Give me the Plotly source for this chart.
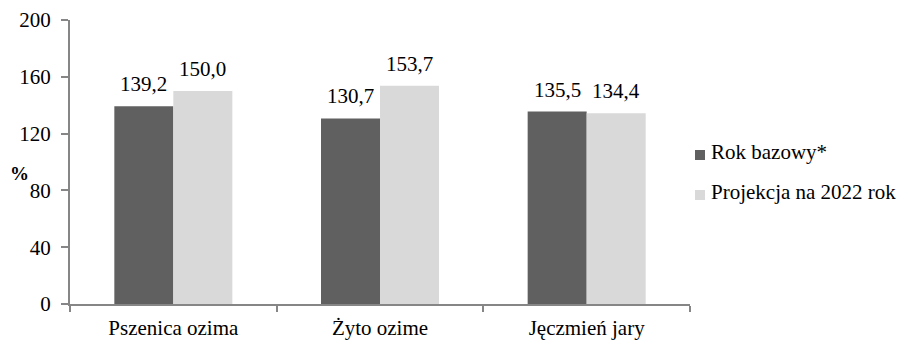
import plotly.graph_objects as go

# Crop categories and yield index series (%)
categories = ["Pszenica ozima", "Żyto ozime", "Jęczmień jary"]
series_names = ["Rok bazowy*", "Projekcja na 2022 rok"]
base_year = [139.2, 130.7, 135.5]
projection_2022 = [150.0, 153.7, 134.4]
series_values = [base_year, projection_2022]
series_colors = ["#606060", "#d9d9d9"]
y_ticks = [0, 40, 80, 120, 160, 200]

FONT = "Liberation Serif, serif"
AXIS_COLOR = "#868686"
FS = 21

fig = go.Figure()
for name, vals, col in zip(series_names, series_values, series_colors):
    fig.add_trace(go.Bar(
        x=categories, y=vals, name=name,
        marker=dict(color=col, line=dict(width=0)),
        showlegend=False,
    ))

# Value labels above each bar, with a comma decimal separator
n_series = len(series_values)
for si, vals in enumerate(series_values):
    for ci, v in enumerate(vals):
        fig.add_annotation(
            x=categories[ci], y=v, xref="x", yref="y",
            text=f"{v:.1f}".replace(".", ","),
            showarrow=False, yanchor="middle", xanchor="center",
            xshift=(si - (n_series - 1) / 2) * 59, yshift=22,
            font=dict(family=FONT, size=FS, color="#000000"),
        )

# Legend drawn as swatches with labels on the right
legend_rows = [(155, 152), (195, 192)]
W, H = 897, 341
for (sw_y, txt_y), name, col in zip(legend_rows, series_names, series_colors):
    fig.add_shape(
        type="rect", xref="paper", yref="paper",
        x0=(695 - 70) / 620, x1=(705 - 70) / 620,
        y0=(304 - (sw_y + 5)) / 284, y1=(304 - (sw_y - 5)) / 284,
        fillcolor=col, line=dict(width=0),
    )
    fig.add_annotation(
        x=(709 - 70) / 620, y=(304 - txt_y) / 284, xref="paper", yref="paper",
        text=name, showarrow=False, xanchor="left", yanchor="middle",
        font=dict(family=FONT, size=FS, color="#000000"),
    )

# Unit label for the value axis
fig.add_annotation(
    x=(19 - 70) / 620, y=(304 - 174) / 284, xref="paper", yref="paper",
    text="<b>%</b>", showarrow=False, xanchor="center", yanchor="middle",
    font=dict(family=FONT, size=19, color="#000000"),
)

fig.update_layout(
    width=W, height=H,
    margin=dict(l=70, r=207, t=20, b=37, autoexpand=False),
    paper_bgcolor="white", plot_bgcolor="white",
    barmode="group", bargap=0.429, bargroupgap=0,
    font=dict(family=FONT, size=FS, color="#000000"),
)
fig.update_xaxes(
    automargin=False,
    showline=True, linecolor=AXIS_COLOR, linewidth=2,
    ticks="outside", tickson="boundaries", ticklen=6, tickcolor=AXIS_COLOR, tickwidth=2,
    showgrid=False, tickfont=dict(family=FONT, size=FS),
    ticklabelstandoff=4,
    range=[-0.5, 2.5],
)
fig.update_yaxes(
    automargin=False,
    range=[0, 200], tickvals=y_ticks, showline=True, linecolor=AXIS_COLOR, linewidth=2,
    ticks="outside", ticklen=7, tickcolor=AXIS_COLOR, tickwidth=2,
    showgrid=False, zeroline=False, tickfont=dict(family=FONT, size=FS),
    ticklabelstandoff=6,
)

fig.write_html("out.html")
